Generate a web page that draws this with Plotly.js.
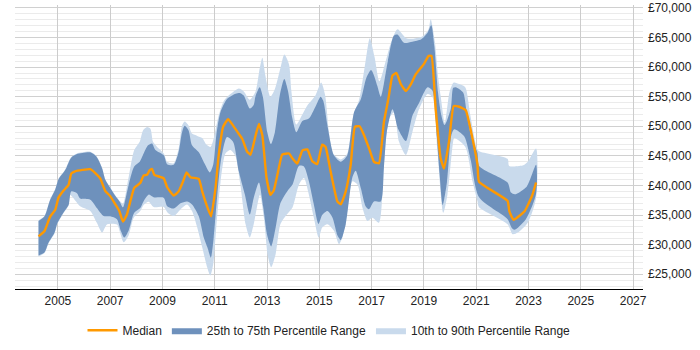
<!DOCTYPE html>
<html>
<head>
<meta charset="utf-8">
<script src="https://cdn.plot.ly/plotly-3.0.1.min.js"></script>
<style>
html,body{margin:0;padding:0;background:#fff;}
#chart{width:700px;height:350px;}
</style>
</head>
<body>
<div id="chart"></div>
<script>
// Median
const medianYears = [2004.26,2004.49,2004.70,2004.90,2005.02,2005.21,2005.41,2005.51,2005.66,2006.24,2006.43,2006.62,2006.81,2007.00,2007.20,2007.35,2007.49,2007.64,2007.77,2007.92,2008.15,2008.28,2008.41,2008.50,2008.60,2008.69,2009.05,2009.18,2009.43,2009.62,2009.79,2009.92,2010.07,2010.39,2010.52,2010.68,2010.86,2011.03,2011.15,2011.32,2011.51,2011.69,2011.86,2012.05,2012.24,2012.37,2012.56,2012.69,2012.82,2012.98,2013.13,2013.26,2013.45,2013.58,2013.84,2013.97,2014.16,2014.35,2014.54,2014.73,2014.92,2015.11,2015.24,2015.43,2015.69,2015.82,2016.01,2016.20,2016.36,2016.54,2016.71,2016.90,2017.09,2017.28,2017.47,2017.64,2017.80,2017.95,2018.12,2018.31,2018.50,2018.69,2019.01,2019.18,2019.29,2019.45,2019.64,2019.77,2019.96,2020.14,2020.35,2020.60,2020.86,2021.05,2021.11,2022.20,2022.27,2022.43,2022.86,2023.14,2023.29];
const medianValues = [31400,32300,34700,35900,37900,39100,40100,42000,42400,42750,42100,41200,39100,38200,36800,35700,33900,35100,37300,39600,40400,41700,41800,42500,42800,41800,41200,39700,38300,39000,40700,42200,41400,41100,39000,36800,34800,39600,45100,49900,51200,50200,49100,47900,45700,45200,48400,50400,48500,41300,38400,39200,42900,45200,45400,44600,43700,45900,46100,44100,43600,46900,46500,42400,37300,36800,39000,43500,49900,50000,48500,46300,44000,43750,50700,54600,58600,59000,57100,56000,57100,58800,60600,61900,61900,52900,44600,42850,47400,53400,53300,52700,47900,43500,40600,37400,35600,34200,35700,38300,40500];

// 75th percentile
const p75Years = [2004.26,2004.49,2004.70,2004.90,2005.02,2005.28,2005.51,2005.73,2006.24,2006.47,2006.69,2006.81,2007.00,2007.20,2007.36,2007.49,2007.62,2007.77,2007.92,2008.13,2008.28,2008.45,2008.60,2008.73,2009.05,2009.18,2009.43,2009.62,2009.75,2009.85,2010.00,2010.13,2010.39,2010.61,2010.81,2010.94,2011.06,2011.22,2011.47,2011.80,2011.98,2012.11,2012.34,2012.49,2012.56,2012.72,2012.84,2013.01,2013.15,2013.30,2013.49,2013.66,2013.80,2013.97,2014.12,2014.35,2014.60,2014.86,2015.05,2015.15,2015.31,2015.56,2015.82,2016.07,2016.33,2016.59,2016.80,2016.98,2017.09,2017.22,2017.35,2017.62,2017.85,2017.99,2018.24,2018.56,2018.90,2019.14,2019.28,2019.40,2019.54,2019.66,2019.79,2020.03,2020.12,2020.22,2020.50,2020.62,2020.80,2021.05,2021.11,2022.20,2022.33,2022.48,2022.93,2023.29];
const p75Values = [34000,34800,37500,39300,41000,42600,44700,45300,45600,44900,42900,41000,39600,38200,37300,36300,38400,41200,43200,44000,45400,46800,47100,46000,45100,43600,43500,45700,49000,50100,49300,46800,45600,43700,42200,43500,48500,52400,54600,55500,55600,55200,53000,53600,55100,56600,55000,49000,47000,49000,55300,58000,56000,51300,49000,50900,51300,53400,55000,54300,50150,45100,44000,45100,52400,54600,58200,59500,58600,56800,55000,61000,65300,65500,64100,64300,64700,65800,67100,63500,55700,52000,50200,53000,56500,56600,55700,52900,48500,45500,43300,40500,38800,38500,39800,43500];

// 25th percentile
const p25Years = [2004.26,2004.49,2004.64,2004.87,2004.98,2005.21,2005.41,2005.51,2005.73,2005.85,2006.24,2006.49,2006.75,2007.00,2007.26,2007.41,2007.54,2007.70,2007.92,2008.15,2008.28,2008.47,2008.66,2009.05,2009.18,2009.43,2009.69,2009.94,2010.13,2010.39,2010.58,2010.73,2010.85,2010.96,2011.09,2011.24,2011.47,2011.70,2011.92,2012.15,2012.34,2012.49,2012.69,2012.85,2013.01,2013.16,2013.33,2013.51,2013.77,2013.97,2014.22,2014.41,2014.60,2014.79,2014.97,2015.11,2015.31,2015.50,2015.70,2015.82,2016.01,2016.26,2016.39,2016.59,2016.77,2016.90,2017.09,2017.35,2017.47,2017.58,2017.80,2018.02,2018.31,2018.56,2018.82,2019.14,2019.33,2019.50,2019.60,2019.72,2019.88,2020.05,2020.16,2020.54,2020.79,2021.11,2022.20,2022.35,2022.46,2022.90,2023.29];
const p25Values = [28150,28700,30300,32000,33600,35400,36700,39000,38700,37800,37600,36200,34850,34800,34300,32300,31200,32300,35400,36200,37350,38450,38000,37900,36500,36100,37000,37300,36800,34800,31200,29400,27800,31200,38000,44300,48200,47400,42400,38500,35100,37900,40500,36500,31500,29700,32900,37000,39000,40100,43300,43200,40700,36800,33500,35000,35670,34600,31500,30800,33400,41300,42500,39500,36500,36000,37300,37300,43000,49000,52900,49500,47500,51800,54000,56600,56000,48000,42000,36700,40500,48500,49500,48300,44300,38000,34300,32900,32500,34300,38600];

// 90th percentile
const p90Years = [2004.26,2004.49,2004.70,2004.90,2005.02,2005.28,2005.51,2005.73,2006.24,2006.47,2006.69,2006.81,2007.00,2007.20,2007.36,2007.49,2007.70,2007.92,2008.13,2008.26,2008.41,2008.54,2008.64,2008.79,2009.05,2009.18,2009.43,2009.62,2009.75,2009.85,2010.00,2010.13,2010.33,2010.52,2010.68,2010.84,2010.96,2011.15,2011.35,2011.60,2011.92,2012.11,2012.34,2012.56,2012.72,2012.82,2012.94,2013.13,2013.30,2013.51,2013.66,2013.84,2013.93,2014.12,2014.35,2014.54,2014.86,2015.07,2015.22,2015.37,2015.53,2015.82,2016.06,2016.30,2016.53,2016.77,2016.93,2017.11,2017.30,2017.55,2017.75,2017.99,2018.31,2018.60,2018.95,2019.17,2019.26,2019.42,2019.54,2019.64,2019.80,2019.98,2020.14,2020.35,2020.58,2020.77,2021.03,2021.11,2022.20,2022.26,2022.80,2022.97,2023.29];
const p90Values = [34100,34900,37600,39400,41100,42700,44800,45400,45700,45000,43000,41100,39700,38300,37400,36900,41240,45980,47370,49320,49880,49600,47370,46540,45420,44020,43750,46260,50150,50820,50150,48770,48380,48040,46930,46500,47930,51830,54330,55450,56400,55900,54500,55900,59800,61590,58500,55000,56300,59800,62140,60500,56000,50300,52000,53500,55300,57400,55300,49040,45400,44400,45300,51800,54600,61000,64900,61800,57600,61200,64300,66400,64940,64800,65200,66300,68100,64300,58500,55170,50600,55800,57400,57130,56600,52000,46260,45800,44500,43300,43400,44000,46260];

// 10th percentile
const p10Years = [2004.26,2004.49,2004.64,2004.87,2004.98,2005.21,2005.41,2005.47,2005.85,2006.24,2006.49,2006.69,2006.88,2007.26,2007.32,2007.52,2007.70,2007.90,2008.15,2008.28,2008.47,2008.66,2009.05,2009.20,2009.43,2009.69,2009.94,2010.13,2010.33,2010.52,2010.71,2010.83,2010.94,2011.06,2011.22,2011.41,2011.60,2011.79,2011.98,2012.18,2012.34,2012.49,2012.73,2012.88,2013.04,2013.16,2013.33,2013.51,2013.74,2013.97,2014.22,2014.41,2014.60,2014.79,2014.98,2015.11,2015.31,2015.56,2015.75,2015.88,2016.07,2016.26,2016.46,2016.65,2016.84,2017.03,2017.28,2017.47,2017.67,2017.86,2018.05,2018.31,2018.56,2018.82,2019.14,2019.33,2019.52,2019.74,2019.90,2020.10,2020.16,2020.58,2020.86,2021.05,2021.11,2022.20,2022.39,2022.59,2022.97,2023.29];
const p10Values = [28000,28600,30200,31900,33500,35300,36600,38400,36500,35700,33700,32050,33400,33400,32900,30400,31500,34560,35670,36680,37230,36340,36340,35390,34840,35950,36780,35670,32880,29540,26190,24800,26700,33000,40500,45400,46000,45000,40100,33430,31210,33430,38450,34560,27870,26190,28420,33430,35000,36230,40120,41240,38450,34560,31210,32880,33430,32330,30090,31210,35670,40690,40120,36230,34000,34560,33710,43460,51270,52390,47370,45140,49040,52950,55450,54900,45700,35390,38450,46800,48000,46540,40690,37350,36300,33430,31760,32050,33710,37900];

const xTickYears = [2005,2007,2009,2011,2013,2015,2017,2019,2021,2023,2025,2027];
const yTickValues = [25000,30000,35000,40000,45000,50000,55000,60000,65000,70000];

function band(upX, upY, loX, loY) {
  return {
    x: upX.concat(loX.slice().reverse()),
    y: upY.concat(loY.slice().reverse())
  };
}
const outer = band(p90Years, p90Values, p10Years, p10Values);
const inner = band(p75Years, p75Values, p25Years, p25Values);

const traces = [
  {
    x: outer.x, y: outer.y, type: 'scatter', mode: 'lines',
    fill: 'toself', fillcolor: 'rgb(201,218,236)',
    line: {width: 0, color: 'rgb(201,218,236)', shape: 'spline', smoothing: 0.7},
    name: '10th to 90th Percentile Range', hoverinfo: 'skip'
  },
  {
    x: inner.x, y: inner.y, type: 'scatter', mode: 'lines',
    fill: 'toself', fillcolor: 'rgb(110,145,188)',
    line: {width: 0, color: 'rgb(110,145,188)', shape: 'spline', smoothing: 0.7},
    name: '25th to 75th Percentile Range', hoverinfo: 'skip'
  },
  {
    x: medianYears, y: medianValues, type: 'scatter', mode: 'lines',
    line: {color: '#ff9900', width: 2.4, shape: 'spline', smoothing: 0.4},
    name: 'Median'
  }
];

const layout = {
  width: 700, height: 350,
  margin: {l: 15, r: 57, t: 5, b: 58},
  paper_bgcolor: '#ffffff', plot_bgcolor: '#ffffff',
  font: {family: 'Liberation Sans, Arial, sans-serif', size: 12, color: '#222'},
  showlegend: true,
  legend: {
    orientation: 'h', x: 0.5, xanchor: 'center', y: -0.145, yanchor: 'middle',
    traceorder: 'reversed', font: {size: 12, color: '#222'}, itemwidth: 30
  },
  xaxis: {
    range: [2003.36, 2027.38],
    tickmode: 'array', tickvals: xTickYears, ticktext: xTickYears.map(String),
    showgrid: true, gridcolor: '#cccccc', gridwidth: 1,
    showline: true, linecolor: '#000', linewidth: 1.2,
    ticks: '', zeroline: false, tickfont: {size: 12}
  },
  yaxis: {
    range: [22500, 70500], side: 'right',
    tickmode: 'array', tickvals: yTickValues,
    ticktext: yTickValues.map(v => '£' + v.toLocaleString('en-GB')),
    showgrid: true, gridcolor: '#d0d0d0', gridwidth: 1,
    minor: {dtick: 1000, tick0: 0, showgrid: true, gridcolor: '#ebebeb', gridwidth: 1, ticks: ''},
    showline: false, ticks: '', zeroline: false, tickfont: {size: 12},
    ticklabelstandoff: 4
  }
};

Plotly.newPlot('chart', traces, layout, {displayModeBar: false, staticPlot: true});
</script>
</body>
</html>
